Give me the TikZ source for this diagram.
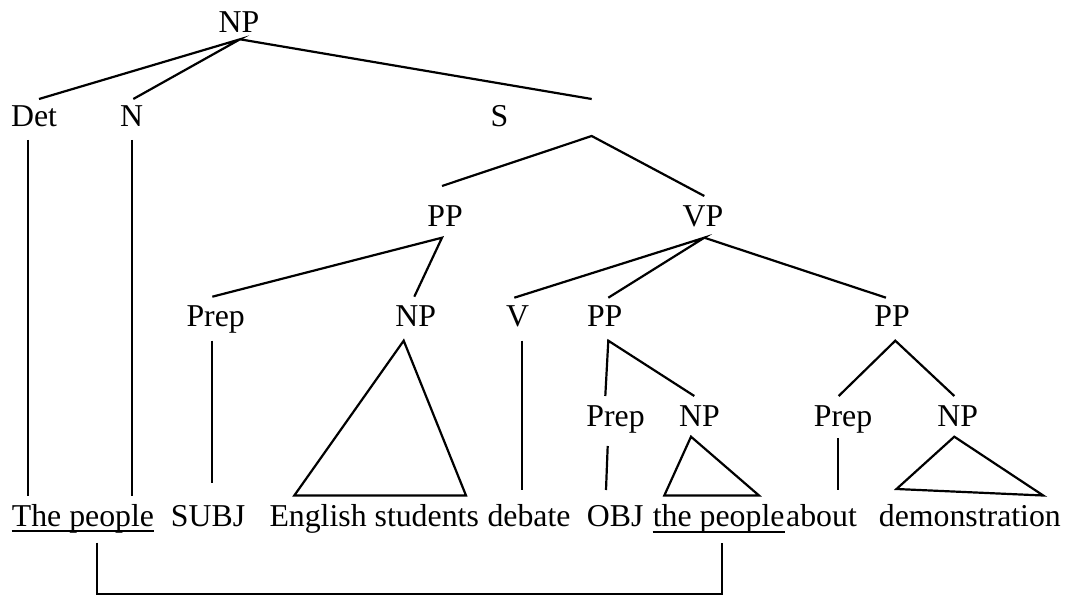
\documentclass[tikz,border=0pt]{standalone}
\usepackage{fontspec}
\setmainfont{Liberation Serif}
\begin{document}
\begin{tikzpicture}[x=1pt,y=-1pt,
  lbl/.style={inner sep=0pt,anchor=base,font=\fontsize{31.8}{36}\selectfont},
  word/.style={inner sep=0pt,anchor=base west,font=\fontsize{31.8}{36}\selectfont},
  branch/.style={line width=2.2pt},
  ul/.style={line width=2pt}]
\useasboundingbox (0,0) rectangle (1068,596);

% category labels
\node[lbl] (np0) at (239,32.5) {NP};
\node[lbl] (det) at (34,126.5) {Det};
\node[lbl] (n) at (131.7,126.5) {N};
\node[lbl] (s) at (499.5,126.5) {S};
\node[lbl] (pp1) at (445,226.5) {PP};
\node[lbl] (vp) at (703,226.5) {VP};
\node[lbl] (prep1) at (215.7,326.5) {Prep};
\node[lbl] (np1) at (415.7,326.5) {NP};
\node[lbl] (v) at (517.7,326.5) {V};
\node[lbl] (pp2) at (604.7,326.5) {PP};
\node[lbl] (pp3) at (892,326.5) {PP};
\node[lbl] (prep2) at (615.5,426.5) {Prep};
\node[lbl] (np2) at (699.5,426.5) {NP};
\node[lbl] (prep3) at (843,426.5) {Prep};
\node[lbl] (np3) at (957.8,426.5) {NP};

% terminal words
\node[word] (w1) at (11.7,526.5) {The people};
\node[word] (w2) at (170.7,526.5) {SUBJ};
\node[word] (w3) at (269.3,526.5) {English students};
\node[word] (w4) at (487.3,526.5) {debate};
\node[word] (w5) at (586.7,526.5) {OBJ};
\node[word] (w6) at (652.7,526.5) {the people};
\node[word] (w7) at (786,526.5) {about};
\node[word] (w8) at (878.7,526.5) {demonstration};

% branch end points
\coordinate (np0-a) at (240,39.3);
\coordinate (det-t) at (39,99);
\coordinate (n-t) at (133.3,99);
\coordinate (s-t) at (591.7,99);
\coordinate (det-b) at (27.7,140);
\coordinate (det-e) at (27.7,496);
\coordinate (n-b) at (132.3,140);
\coordinate (n-e) at (132.3,496);
\coordinate (s-a) at (591.7,136);
\coordinate (pp1-t) at (442,186);
\coordinate (vp-t) at (704.3,196);
\coordinate (pp1-a) at (442,237.7);
\coordinate (prep1-t) at (212.3,296.7);
\coordinate (np1-t) at (414.3,296.7);
\coordinate (vp-a) at (704.3,237.7);
\coordinate (v-t) at (514.3,297.7);
\coordinate (pp2-t) at (608.3,297.7);
\coordinate (pp3-t) at (886,297.7);
\coordinate (prep1-b) at (212.3,340.7);
\coordinate (prep1-e) at (212.3,483.3);
\coordinate (np1-a) at (403.7,340.7);
\coordinate (np1-l) at (294.3,495.5);
\coordinate (np1-r) at (466,495.5);
\coordinate (v-b) at (521.7,340.7);
\coordinate (v-e) at (521.7,490);
\coordinate (pp2-a) at (608.3,340.7);
\coordinate (prep2-t) at (605.3,396);
\coordinate (np2-t) at (694.3,396);
\coordinate (prep2-b) at (607.7,446);
\coordinate (prep2-e) at (606,490);
\coordinate (np2-a) at (691,436.7);
\coordinate (np2-l) at (664.3,495.5);
\coordinate (np2-r) at (759,495.5);
\coordinate (pp3-a) at (895.3,340.7);
\coordinate (prep3-t) at (838.7,396);
\coordinate (np3-t) at (954.3,396);
\coordinate (prep3-b) at (838,438.3);
\coordinate (prep3-e) at (838,490);
\coordinate (np3-a) at (954.3,436.7);
\coordinate (np3-l) at (896.5,489);
\coordinate (np3-r) at (1043.2,495.5);

% tree branches
\draw[branch] (det-t) -- (np0-a) -- (n-t);
\draw[branch] (np0-a) -- (s-t);
\draw[branch] (det-b) -- (det-e);
\draw[branch] (n-b) -- (n-e);
\draw[branch] (pp1-t) -- (s-a) -- (vp-t);
\draw[branch] (prep1-t) -- (pp1-a) -- (np1-t);
\draw[branch] (v-t) -- (vp-a) -- (pp2-t);
\draw[branch] (vp-a) -- (pp3-t);
\draw[branch] (prep1-b) -- (prep1-e);
\draw[branch] (np1-a) -- (np1-l) -- (np1-r) -- cycle;
\draw[branch] (v-b) -- (v-e);
\draw[branch] (prep2-t) -- (pp2-a) -- (np2-t);
\draw[branch] (prep2-b) -- (prep2-e);
\draw[branch] (np2-a) -- (np2-l) -- (np2-r) -- cycle;
\draw[branch] (prep3-t) -- (pp3-a) -- (np3-t);
\draw[branch] (prep3-b) -- (prep3-e);
\draw[branch] (np3-a) -- (np3-l) -- (np3-r) -- cycle;

% underlined co-referent phrases
\draw[ul] ([yshift=-4.5pt]w1.base west) -- ([yshift=-4.5pt]w1.base east);
\draw[ul] ([yshift=-5pt]w6.base west) -- ([yshift=-5pt]w6.base east);

% bracket linking the two phrases
\coordinate (br-l) at (96.7,542.7);
\coordinate (br-r) at (722,542.7);
\draw[branch] (br-l) -- (96.7,594) -- (722,594) -- (br-r);
\end{tikzpicture}
\end{document}
